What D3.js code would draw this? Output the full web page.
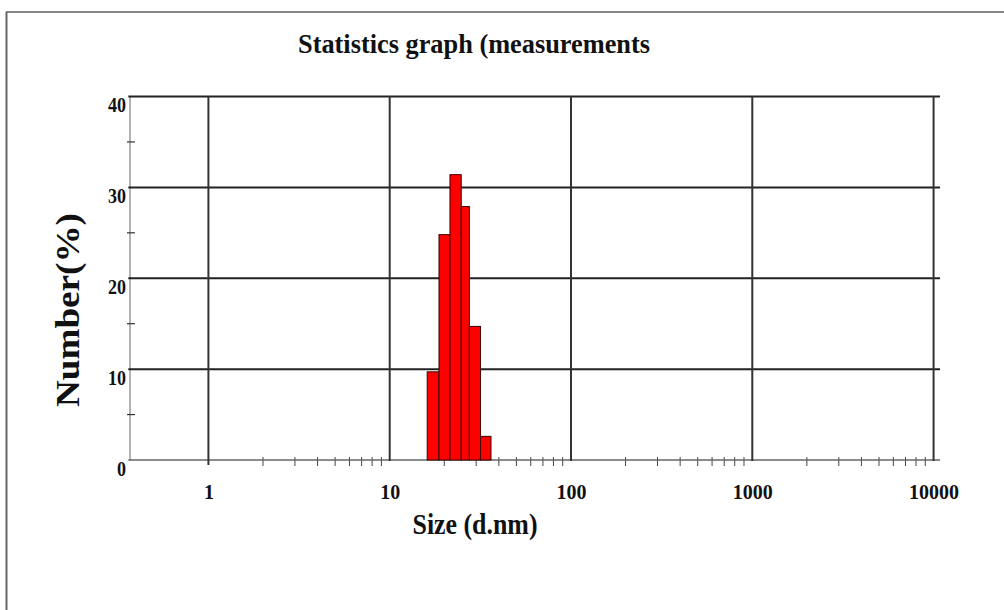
<!DOCTYPE html>
<html>
<head>
<meta charset="utf-8">
<script src="https://cdn.jsdelivr.net/npm/d3@7"></script>
<style>
  html, body { margin: 0; padding: 0; background: #fff; }
  svg { display: block; }
  text { font-family: "Liberation Serif", "Times New Roman", serif; font-weight: bold; fill: #111; }
</style>
</head>
<body>
<svg id="chart" width="1004" height="610"></svg>
<script>
// ---- data ----
const binEdges = [16.1, 18.7, 21.5, 24.8, 27.5, 31.7, 36.2];   // size (d.nm) bin edges
const numberPct = [9.7, 24.8, 31.4, 27.9, 14.7, 2.6];          // Number (%)
const xMajorTicks = [1, 10, 100, 1000, 10000];
const xTickLabels = ["1", "10", "100", "1000", "10000"];
const yMajorTicks = [0, 10, 20, 30, 40];
const yMinorTicks = [5, 15, 25, 35];
const xDomain = [0.3615, 10850];
const yDomain = [0, 40];
const titleText = "Statistics graph (measurements";
const xTitle = "Size (d.nm)";
const yTitle = "Number(%)";

const svg = d3.select("#chart");
const L = 128.3, R = 940, T = 96.5, B = 460;

const x = d3.scaleLog().domain(xDomain).range([L, R]);
const y = d3.scaleLinear().domain(yDomain).range([B, T]);

// outer frame
svg.append("line").attr("x1", 6).attr("x2", 1004).attr("y1", 12).attr("y2", 12)
  .attr("stroke", "#888").attr("stroke-width", 2);
svg.append("line").attr("x1", 6.5).attr("x2", 6.5).attr("y1", 12).attr("y2", 610)
  .attr("stroke", "#666").attr("stroke-width", 2);

// title
svg.append("text").attr("x", 474).attr("y", 53).attr("text-anchor", "middle")
  .attr("font-size", 28).attr("textLength", 352).attr("lengthAdjust", "spacingAndGlyphs")
  .text(titleText);

// minor x ticks (2..9 in each decade)
const minorX = [];
for (let d = 1; d < 10000; d *= 10) for (let k = 2; k <= 9; k++) minorX.push(d * k);
svg.append("g").selectAll("line").data(minorX).join("line")
  .attr("x1", d => x(d)).attr("x2", d => x(d)).attr("y1", B - 3).attr("y2", B + 6)
  .attr("stroke", "#444").attr("stroke-width", 1);

// axis lines (grey)
svg.append("line").attr("x1", 130).attr("x2", 130).attr("y1", T).attr("y2", B)
  .attr("stroke", "#999").attr("stroke-width", 1.5);
svg.append("line").attr("x1", L).attr("x2", R).attr("y1", B).attr("y2", B)
  .attr("stroke", "#666").attr("stroke-width", 1.5);

// horizontal grid lines
svg.append("g").selectAll("line").data(yMajorTicks.filter(v => v > 0)).join("line")
  .attr("x1", L).attr("x2", R).attr("y1", d => y(d)).attr("y2", d => y(d))
  .attr("stroke", "#222").attr("stroke-width", 2);

// vertical grid lines
svg.append("g").selectAll("line").data(xMajorTicks).join("line")
  .attr("x1", d => x(d)).attr("x2", d => x(d)).attr("y1", T).attr("y2", d => d === 1 ? B + 5 : B + 1)
  .attr("stroke", "#333").attr("stroke-width", 2);

// minor y ticks
svg.append("g").selectAll("line").data(yMinorTicks).join("line")
  .attr("x1", 127).attr("x2", 135).attr("y1", d => y(d)).attr("y2", d => y(d))
  .attr("stroke", "#333").attr("stroke-width", 1.2);

// bars
const bars = numberPct.map((v, i) => ({ x0: binEdges[i], x1: binEdges[i + 1], v }));
svg.append("g").selectAll("rect").data(bars).join("rect")
  .attr("x", d => x(d.x0)).attr("width", d => x(d.x1) - x(d.x0))
  .attr("y", d => y(d.v)).attr("height", d => y(0) - y(d.v))
  .attr("fill", "#ff0000").attr("stroke", "#3a0000").attr("stroke-width", 1);

// x tick labels via axis
const xAxis = d3.axisBottom(x).tickValues(xMajorTicks)
  .tickFormat((d, i) => xTickLabels[i]).tickSize(0).tickPadding(0);
const gx = svg.append("g").attr("transform", `translate(0,${B + 23})`).call(xAxis);
gx.select(".domain").remove();
gx.selectAll("text").attr("font-size", 22).attr("font-family", "Liberation Serif")
  .attr("font-weight", "bold").attr("fill", "#111").attr("dy", "0.71em")
  .attr("textLength", function () { return this.textContent.length * 10; })
  .attr("lengthAdjust", "spacingAndGlyphs");

// y tick labels via axis
const yAxis = d3.axisLeft(y).tickValues(yMajorTicks).tickSize(0).tickPadding(0);
const gy = svg.append("g").attr("transform", `translate(126,8)`).call(yAxis);
gy.select(".domain").remove();
gy.selectAll("text").attr("font-size", 22).attr("font-family", "Liberation Serif")
  .attr("font-weight", "bold").attr("fill", "#111")
  .attr("textLength", function () { return this.textContent.length * 9; })
  .attr("lengthAdjust", "spacingAndGlyphs");

// axis titles
svg.append("text").attr("x", 475).attr("y", 534).attr("text-anchor", "middle")
  .attr("font-size", 30).attr("textLength", 125).attr("lengthAdjust", "spacingAndGlyphs")
  .text(xTitle);
svg.append("text").attr("transform", "translate(79,310) rotate(-90)").attr("text-anchor", "middle")
  .attr("font-size", 34).attr("textLength", 194).attr("lengthAdjust", "spacingAndGlyphs")
  .text(yTitle);
</script>
</body>
</html>
